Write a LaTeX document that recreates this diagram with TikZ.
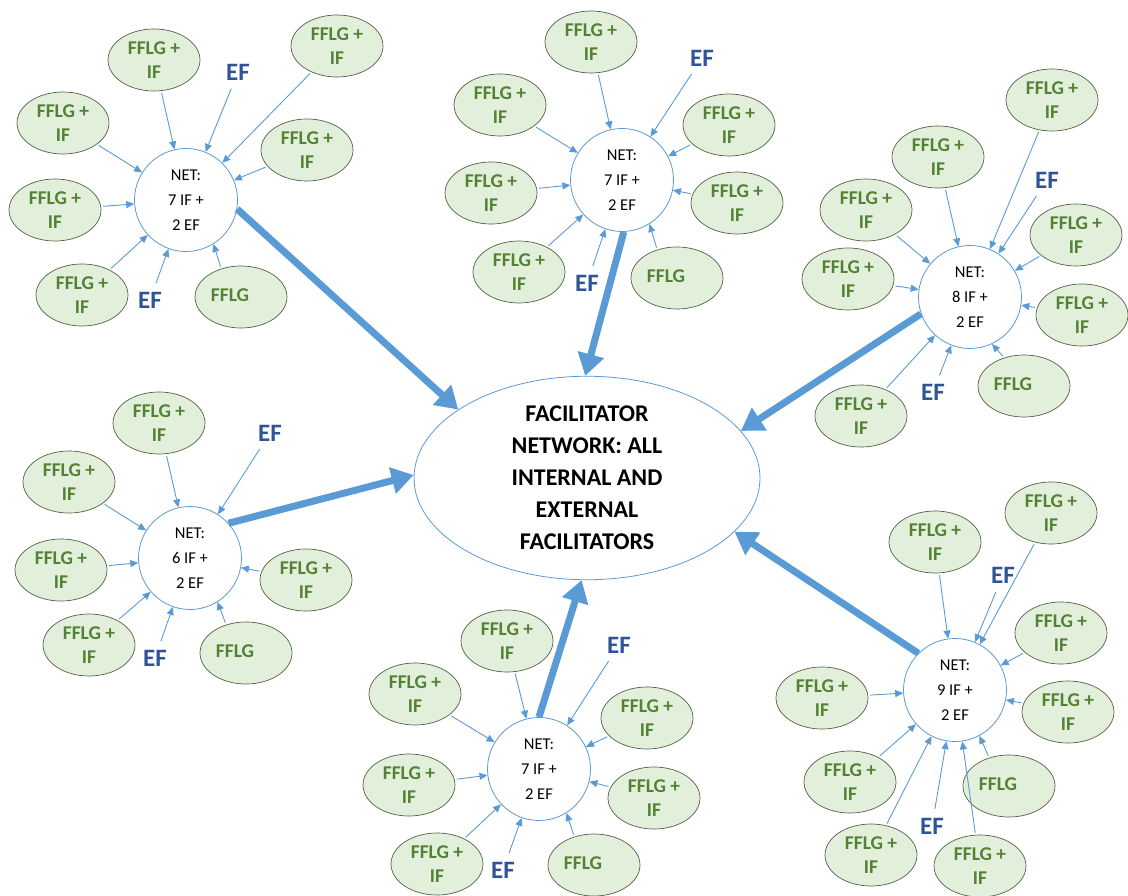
\documentclass[tikz,border=0pt]{standalone}
\usepackage{fontspec}
\setmainfont{Carlito}
\usetikzlibrary{arrows.meta,shapes.geometric}
\definecolor{gfill}{RGB}{226,239,218}
\definecolor{gdraw}{RGB}{85,95,70}
\definecolor{gtext}{RGB}{84,130,53}
\definecolor{arblue}{RGB}{91,155,213}
\definecolor{efblue}{RGB}{47,84,150}
\begin{document}
\begin{tikzpicture}[x=1pt,y=-1pt,
 grp/.style={ellipse, draw=gdraw, line width=0.7pt, fill=gfill, minimum width=92pt, minimum height=62pt, inner sep=0pt, align=center, text=gtext, font=\fontsize{19.5}{23.5}\selectfont\bfseries},
 net/.style={circle, draw=arblue, line width=0.8pt, fill=white, minimum size=103pt, inner sep=0pt, align=center, font=\fontsize{16.5}{25}\selectfont},
 eflab/.style={text=efblue, font=\fontsize{25}{25}\selectfont\bfseries, inner sep=1pt},
 arr/.style={draw=arblue, line width=0.9pt, -{Triangle[length=8pt,width=7pt]}, shorten <=2pt},
 efarr/.style={arr, shorten <=8pt},
 big/.style={draw=arblue, line width=7pt, -{Triangle[length=22pt,width=26pt]}},
 hub/.style={ellipse, draw=arblue, line width=0.8pt, fill=white, minimum width=346pt, minimum height=166pt, inner sep=0pt, align=center, font=\fontsize{24}{32}\selectfont\bfseries}
]
\useasboundingbox (0,0) rectangle (1128,896);
\newcommand{\ffi}{FFLG +\\IF}
\newcommand{\ffo}{\raisebox{4pt}{FFLG}\hspace{22pt}}

% central hub
\node[hub] (C) at (587,478) {FACILITATOR\\NETWORK: ALL\\INTERNAL AND\\EXTERNAL\\FACILITATORS};

% group 1
\node[net] (N1) at (186,200) {NET:\\7 IF +\\2 EF};
\node[grp] (g1a) at (154,60) {\ffi};
\node[grp] (g1b) at (337,46) {\ffi};
\node[grp] (g1c) at (63,123) {\ffi};
\node[grp] (g1d) at (307,150) {\ffi};
\node[grp] (g1e) at (55,210) {\ffi};
\node[grp] (g1f) at (82,295) {\ffi};
\node[grp] (g1g) at (241,297) {\ffo};
\node[eflab] (ef1a) at (238,72) {EF};
\node[eflab] (ef1b) at (150,300) {EF};
\foreach \s in {g1a,g1b,g1c,g1d,g1e,g1f} \draw[arr] (\s) -- (N1);
\draw[arr] (g1g.125) -- (N1.-58);
\foreach \s in {ef1a,ef1b} \draw[efarr] (\s) -- (N1);

% group 2
\node[net] (N2) at (622,180) {NET:\\7 IF +\\2 EF};
\node[grp] (g2a) at (591,42) {\ffi};
\node[grp] (g2b) at (500,105) {\ffi};
\node[grp] (g2c) at (729,125) {\ffi};
\node[grp] (g2d) at (491,193) {\ffi};
\node[grp] (g2e) at (737,203) {\ffi};
\node[grp] (g2f) at (519,272) {\ffi};
\node[grp] (g2g) at (677,278) {\ffo};
\node[eflab] (ef2a) at (702,58) {EF};
\node[eflab] (ef2b) at (587,283) {EF};
\foreach \s in {g2a,g2b,g2c,g2d,g2e,g2f} \draw[arr] (\s) -- (N2);
\draw[arr] (g2g.125) -- (N2.-58);
\foreach \s in {ef2a,ef2b} \draw[efarr] (\s) -- (N2);

% group 3
\node[net] (N3) at (970,297) {NET:\\8 IF +\\2 EF};
\node[grp] (g3a) at (1052,100) {\ffi};
\node[grp] (g3b) at (938,157) {\ffi};
\node[grp] (g3c) at (866,210) {\ffi};
\node[grp] (g3d) at (1076,235) {\ffi};
\node[grp] (g3e) at (848,279) {\ffi};
\node[grp] (g3f) at (1082,315) {\ffi};
\node[grp] (g3g) at (1024,386) {\ffo};
\node[grp] (g3h) at (861,416) {\ffi};
\node[eflab] (ef3a) at (1047,180) {EF};
\node[eflab] (ef3b) at (933,392) {EF};
\foreach \s in {g3a,g3b,g3c,g3d,g3e,g3f,g3h} \draw[arr] (\s) -- (N3);
\draw[arr] (g3g.125) -- (N3.-65);
\foreach \s in {ef3a,ef3b} \draw[efarr] (\s) -- (N3);

% group 4
\node[net] (N4) at (190,558) {NET:\\6 IF +\\2 EF};
\node[grp] (g4a) at (159,423) {\ffi};
\node[grp] (g4b) at (69,482) {\ffi};
\node[grp] (g4c) at (61,570) {\ffi};
\node[grp] (g4d) at (306,580) {\ffi};
\node[grp] (g4e) at (89,645) {\ffi};
\node[grp] (g4f) at (246,653) {\ffo};
\node[eflab] (ef4a) at (270,433) {EF};
\node[eflab] (ef4b) at (155,658) {EF};
\foreach \s in {g4a,g4b,g4c,g4d,g4e} \draw[arr] (\s) -- (N4);
\draw[arr] (g4f.125) -- (N4.-58);
\foreach \s in {ef4a,ef4b} \draw[efarr] (\s) -- (N4);

% group 5
\node[net] (N5) at (539,769) {NET:\\7 IF +\\2 EF};
\node[grp] (g5a) at (507,641) {\ffi};
\node[grp] (g5b) at (415,694) {\ffi};
\node[grp] (g5c) at (647,718) {\ffi};
\node[grp] (g5d) at (409,785) {\ffi};
\node[grp] (g5e) at (654,798) {\ffi};
\node[grp] (g5f) at (437,864) {\ffi};
\node[grp] (g5g) at (594,865) {\ffo};
\node[eflab] (ef5a) at (619,645) {EF};
\node[eflab] (ef5b) at (503,870) {EF};
\foreach \s in {g5a,g5b,g5c,g5d,g5e,g5f} \draw[arr] (\s) -- (N5);
\draw[arr] (g5g.125) -- (N5.-58);
\foreach \s in {ef5a,ef5b} \draw[efarr] (\s) -- (N5);

% group 6
\node[net] (N6) at (955,690) {NET:\\9 IF +\\2 EF};
\node[grp] (g6a) at (1051,513) {\ffi};
\node[grp] (g6b) at (935,542) {\ffi};
\node[grp] (g6c) at (1061,633) {\ffi};
\node[grp] (g6d) at (822,698) {\ffi};
\node[grp] (g6e) at (1068,712) {\ffi};
\node[grp] (g6f) at (850,782) {\ffi};
\node[grp] (g6g) at (1009,786) {\ffo};
\node[grp] (g6h) at (871,855) {\ffi};
\node[grp] (g6i) at (980,866) {\ffi};
\node[eflab] (ef6a) at (1003,575) {EF};
\node[eflab] (ef6b) at (932,826) {EF};
\foreach \s in {g6a,g6b,g6c,g6d,g6e,g6f,g6h,g6i} \draw[arr] (\s) -- (N6);
\draw[arr] (g6g.125) -- (N6.-62);
\foreach \s in {ef6a,ef6b} \draw[efarr] (\s) -- (N6);

% big arrows
\draw[big] (N1.-10) -- (C.152);
\draw[big] (N2.-88) -- (C.91);
\draw[big] (N3.-161) -- (C.17);
\draw[big] (N4.42) -- (C.179);
\draw[big] (N5.90) -- (C.-93);
\draw[big] (N6.135) -- (C.-20);
\end{tikzpicture}
\end{document}
